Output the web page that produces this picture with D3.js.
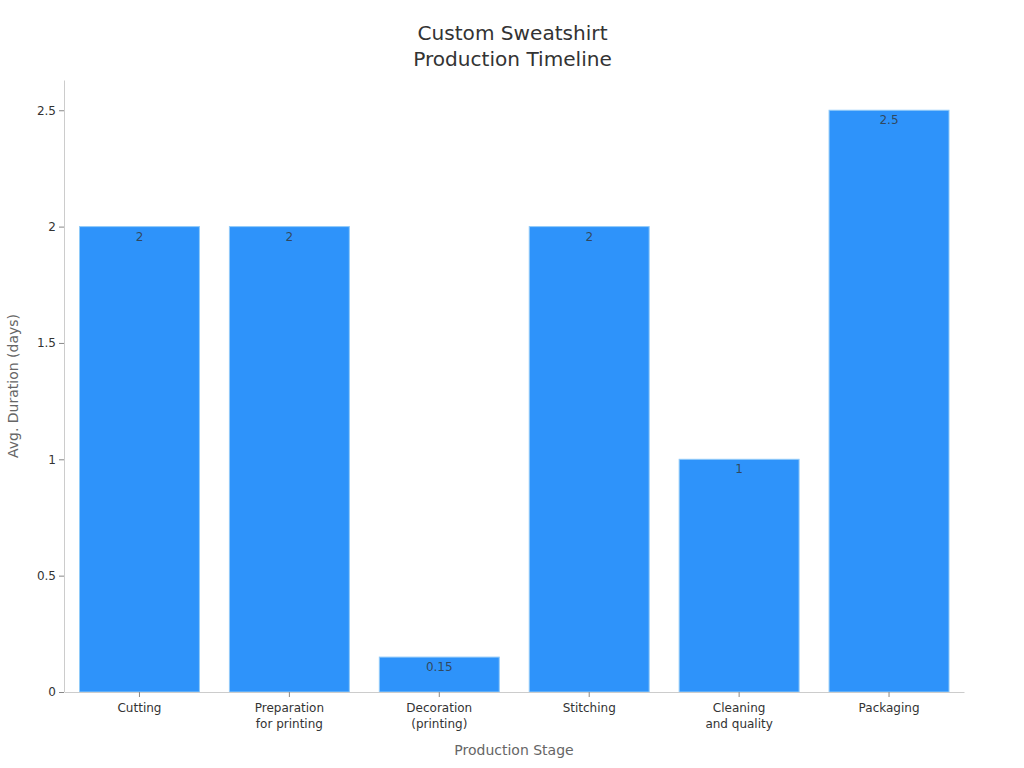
<!DOCTYPE html>
<html>
<head>
<meta charset="utf-8">
<script src="https://cdn.jsdelivr.net/npm/d3@7"></script>
<style>
  html, body { margin: 0; padding: 0; background: #fff; }
  svg { display: block; font-family: "DejaVu Sans", sans-serif; }
</style>
</head>
<body>
<div id="chart"></div>
<script>
// chart values
var stages = ["Cutting", "Preparation\nfor printing", "Decoration\n(printing)", "Stitching", "Cleaning\nand quality", "Packaging"];
var durations = [2, 2, 0.15, 2, 1, 2.5];
var yTicks = [0, 0.5, 1, 1.5, 2, 2.5];
var titleLines = ["Custom Sweatshirt", "Production Timeline"];
var xTitle = "Production Stage";
var yTitle = "Avg. Duration (days)";

var width = 1024, height = 768;
var margin = {top: 80, right: 60, bottom: 76, left: 64.5};
var innerW = width - margin.left - margin.right,
  innerH = height - margin.top - margin.bottom;

var svg = d3.select("#chart")
.append("svg")
  .attr("width", width)
  .attr("height", height);

var g = svg.append("g")
  .attr("transform", "translate(" + margin.left + "," + margin.top + ")");

var x = d3.scaleBand()
  .domain(stages)
  .range([0, innerW])
  .paddingInner(0.2)
  .paddingOuter(0.1);

// top of the axis sits a bit above the 2.5 tick
var y = d3.scaleLinear()
  .domain([0, 2.63])
  .range([innerH, 0]);

// bars
g.selectAll("rect.bar")
  .data(stages)
  .enter()
  .append("rect")
  .attr("class", "bar")
  .attr("x", function(d) { return x(d) })
  .attr("y", function(d, i) { return y(durations[i]) })
  .attr("width", x.bandwidth())
  .attr("height", function(d, i) { return innerH - y(durations[i]) })
  .style("fill", "#2e93fa")
  .style("stroke", "#90caf9")
  .style("stroke-width", 1);

// value labels
g.selectAll("text.value")
  .data(stages)
  .enter()
  .append("text")
  .attr("class", "value")
  .attr("x", function(d) { return x(d) + x.bandwidth() / 2 })
  .attr("y", function(d, i) { return y(durations[i]) + 14 })
  .attr("text-anchor", "middle")
  .style("font-size", "12px")
  .style("fill", "#333")
  .style("fill-opacity", 0.8)
  .text(function(d, i) { return durations[i] });

// y axis
var yAxis = g.append("g")
  .attr("transform", "translate(-0.5,0)")
  .call(d3.axisLeft(y).tickValues(yTicks).tickFormat(function(d) { return d }).tickSizeInner(5).tickSizeOuter(0).tickPadding(3));
yAxis.select(".domain").attr("stroke", "#ccc");
yAxis.selectAll(".tick line").attr("stroke", "#888");
yAxis.selectAll(".tick text").style("font-size", "12px").style("fill", "#333").style("font-family", "DejaVu Sans");

// x axis
var xAxis = g.append("g")
  .attr("transform", "translate(0," + innerH + ")")
  .call(d3.axisBottom(x).tickSizeInner(5).tickSizeOuter(0).tickPadding(4).tickFormat(""));
xAxis.select(".domain").attr("stroke", "#ccc");
xAxis.selectAll(".tick line").attr("stroke", "#888");

// multi line category labels
xAxis.selectAll(".tick text").each(function(d) {
  var t = d3.select(this).text(null);
  d.split("\n").forEach(function(line, i) {
    t.append("tspan")
      .attr("x", 0)
      .attr("y", 11 + i * 16)
      .attr("dy", "0.71em")
      .text(line);
  });
})
  .style("font-size", "12px")
  .style("fill", "#333")
  .style("font-family", "DejaVu Sans");

// titles
svg.selectAll("text.title")
  .data(titleLines)
  .enter()
  .append("text")
  .attr("class", "title")
  .attr("x", 512.5)
  .attr("y", function(d, i) { return 40 + i * 26 })
  .attr("text-anchor", "middle")
  .style("font-size", "20.1px")
  .style("fill", "#333")
  .text(function(d) { return d });

svg.append("text")
  .attr("x", 514)
  .attr("y", 755)
  .attr("text-anchor", "middle")
  .style("font-size", "14px")
  .style("fill", "#666")
  .text(xTitle);

svg.append("text")
  .attr("transform", "translate(17.5,386) rotate(-90)")
  .attr("text-anchor", "middle")
  .style("font-size", "14px")
  .style("fill", "#666")
  .text(yTitle);
</script>
</body>
</html>
